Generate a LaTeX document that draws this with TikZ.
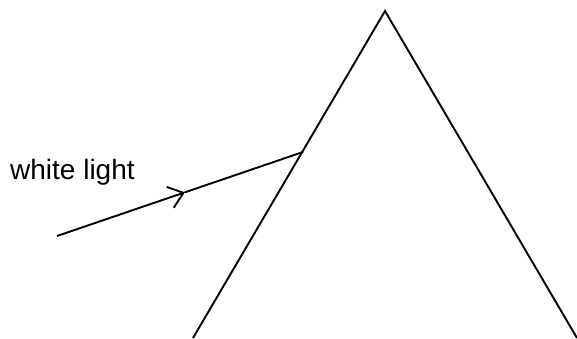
\documentclass[tikz,border=0pt]{standalone}
\usepackage{fontspec}
\setmainfont{Liberation Sans}
\usetikzlibrary{arrows.meta,calc}
\begin{document}
\begin{tikzpicture}[x=1pt,y=1pt,
  edge/.style={line width=1.9pt,line cap=butt},
  barb/.style={-{Straight Barb[length=14pt,width=22pt,line width=1.9pt]}}]
\useasboundingbox (0,0) rectangle (577,338);
\coordinate (apex) at (385,327);
\coordinate (bl) at (193,0);
\coordinate (br) at (577,0);
\coordinate (src) at (57,102);
\coordinate (hit) at (303,186);
\coordinate (tip) at ($(src)!0.52!(hit)$);
\draw[edge] (bl) -- (apex) -- (br);
\draw[edge,barb] (src) -- (tip);
\draw[edge] (tip) -- (hit);
\node[anchor=base west,inner sep=0pt,font=\fontsize{28}{32}\selectfont] (label) at (10,159) {white light};
\end{tikzpicture}
\end{document}
